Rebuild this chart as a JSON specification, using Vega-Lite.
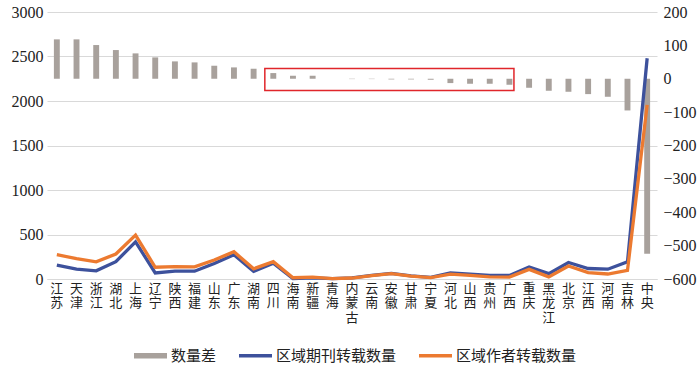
{
  "$schema": "https://vega.github.io/schema/vega-lite/v6.json",
  "width": 610,
  "height": 267,
  "autosize": {"type": "none"},
  "padding": {"left": 47, "top": 12, "right": 43, "bottom": 93},
  "config": {"view": {"stroke": null}, "font": "Liberation Serif"},
  "data": {
    "values": [
      {"region": "江苏", "diff": 118, "区域期刊转载数量": 155, "区域作者转载数量": 273},
      {"region": "天津", "diff": 118, "区域期刊转载数量": 110, "区域作者转载数量": 228},
      {"region": "浙江", "diff": 101, "区域期刊转载数量": 92, "区域作者转载数量": 193},
      {"region": "湖北", "diff": 86, "区域期刊转载数量": 195, "区域作者转载数量": 281},
      {"region": "上海", "diff": 76, "区域期刊转载数量": 418, "区域作者转载数量": 494},
      {"region": "辽宁", "diff": 64, "区域期刊转载数量": 68, "区域作者转载数量": 132},
      {"region": "陕西", "diff": 52, "区域期刊转载数量": 88, "区域作者转载数量": 140},
      {"region": "福建", "diff": 49, "区域期刊转载数量": 88, "区域作者转载数量": 137},
      {"region": "山东", "diff": 39, "区域期刊转载数量": 175, "区域作者转载数量": 214},
      {"region": "广东", "diff": 34, "区域期刊转载数量": 272, "区域作者转载数量": 306},
      {"region": "湖南", "diff": 30, "区域期刊转载数量": 85, "区域作者转载数量": 115},
      {"region": "四川", "diff": 17, "区域期刊转载数量": 178, "区域作者转载数量": 195},
      {"region": "海南", "diff": 9, "区域期刊转载数量": 5, "区域作者转载数量": 14},
      {"region": "新疆", "diff": 9, "区域期刊转载数量": 12, "区域作者转载数量": 21},
      {"region": "青海", "diff": 0, "区域期刊转载数量": 5, "区域作者转载数量": 5},
      {"region": "内蒙古", "diff": -1, "区域期刊转载数量": 12, "区域作者转载数量": 11},
      {"region": "云南", "diff": -1, "区域期刊转载数量": 40, "区域作者转载数量": 39},
      {"region": "安徽", "diff": -2, "区域期刊转载数量": 62, "区域作者转载数量": 60},
      {"region": "甘肃", "diff": -2, "区域期刊转载数量": 35, "区域作者转载数量": 33},
      {"region": "宁夏", "diff": -3, "区域期刊转载数量": 18, "区域作者转载数量": 15},
      {"region": "河北", "diff": -13, "区域期刊转载数量": 68, "区域作者转载数量": 55},
      {"region": "山西", "diff": -15, "区域期刊转载数量": 55, "区域作者转载数量": 40},
      {"region": "贵州", "diff": -15, "区域期刊转载数量": 40, "区域作者转载数量": 25},
      {"region": "广西", "diff": -18, "区域期刊转载数量": 40, "区域作者转载数量": 22},
      {"region": "重庆", "diff": -27, "区域期刊转载数量": 135, "区域作者转载数量": 108},
      {"region": "黑龙江", "diff": -36, "区域期刊转载数量": 60, "区域作者转载数量": 24},
      {"region": "北京", "diff": -39, "区域期刊转载数量": 185, "区域作者转载数量": 146},
      {"region": "江西", "diff": -46, "区域期刊转载数量": 118, "区域作者转载数量": 72},
      {"region": "河南", "diff": -54, "区域期刊转载数量": 110, "区域作者转载数量": 56},
      {"region": "吉林", "diff": -95, "区域期刊转载数量": 192, "区域作者转载数量": 97},
      {"region": "中央", "diff": -524, "区域期刊转载数量": 2480, "区域作者转载数量": 1956}
    ]
  },
  "layer": [
    {
      "mark": {"type": "bar", "width": {"band": 0.3}},
      "encoding": {
        "x": {
          "field": "region",
          "type": "nominal",
          "sort": null,
          "scale": {
            "domain": ["江苏","天津","浙江","湖北","上海","辽宁","陕西","福建","山东","广东","湖南","四川","海南","新疆","青海","内蒙古","云南","安徽","甘肃","宁夏","河北","山西","贵州","广西","重庆","黑龙江","北京","江西","河南","吉林","中央"],
            "paddingInner": 0,
            "paddingOuter": 0
          },
          "axis": {
            "title": null,
            "labelAngle": 0,
            "labelExpr": "split(datum.label, '')",
            "labelFont": "Noto Sans CJK SC",
            "labelFontSize": 13,
            "labelLineHeight": 14.5,
            "labelBaseline": "top",
            "labelColor": "#222222",
            "labelPadding": 3,
            "labelOverlap": false,
            "ticks": false,
            "grid": false,
            "domainColor": "#d9d9d9",
            "domainWidth": 1
          }
        },
        "y": {
          "field": "diff",
          "type": "quantitative",
          "scale": {"domain": [-600, 200], "nice": false, "zero": false},
          "axis": {
            "orient": "right",
            "title": null,
            "format": "d",
            "values": [-600, -500, -400, -300, -200, -100, 0, 100, 200],
            "grid": false,
            "domain": false,
            "ticks": false,
            "labelFont": "Liberation Serif",
            "labelFontSize": 16,
            "labelColor": "#222222",
            "labelPadding": 6
          }
        },
        "color": {
          "datum": "数量差",
          "type": "nominal",
          "scale": {
            "domain": ["数量差", "区域期刊转载数量", "区域作者转载数量"],
            "range": ["#a8a19c", "#3d519c", "#ec7a30"]
          },
          "legend": {
            "orient": "none",
            "legendX": 87,
            "legendY": 327,
            "direction": "horizontal",
            "title": null,
            "labelFont": "Noto Sans CJK SC",
            "labelFontSize": 15,
            "labelColor": "#222222",
            "symbolSize": 1089,
            "labelOffset": 4,
            "columnPadding": 22,
            "encode": {
              "symbols": {
                "update": {
                  "shape": {"signal": "datum.value === '数量差' ? 'M-1,-0.16H1V0.16H-1Z' : 'M-1,-0.1H1V0.1H-1Z'"},
                  "fill": {"signal": "scale('color', datum.value)"},
                  "stroke": {"value": "transparent"},
                  "strokeWidth": {"value": 0},
                  "opacity": {"value": 1}
                }
              }
            }
          }
        }
      }
    },
    {
      "transform": [{"fold": ["区域期刊转载数量", "区域作者转载数量"], "as": ["series", "count"]}],
      "mark": {"type": "line", "strokeWidth": 3.3},
      "encoding": {
        "x": {"field": "region", "type": "nominal", "sort": null},
        "y": {
          "field": "count",
          "type": "quantitative",
          "scale": {"domain": [0, 3000], "nice": false},
          "axis": {
            "orient": "left",
            "title": null,
            "format": "d",
            "values": [0, 500, 1000, 1500, 2000, 2500, 3000],
            "grid": true,
            "gridColor": "#d9d9d9",
            "domain": false,
            "ticks": false,
            "labelFont": "Liberation Serif",
            "labelFontSize": 16,
            "labelColor": "#222222",
            "labelPadding": 4
          }
        },
        "color": {
          "field": "series",
          "type": "nominal",
          "legend": {
            "orient": "none",
            "legendX": 87,
            "legendY": 327,
            "direction": "horizontal",
            "title": null,
            "labelFont": "Noto Sans CJK SC",
            "labelFontSize": 15,
            "labelColor": "#222222",
            "symbolSize": 1089,
            "labelOffset": 4,
            "columnPadding": 22,
            "encode": {
              "symbols": {
                "update": {
                  "shape": {"signal": "datum.value === '数量差' ? 'M-1,-0.16H1V0.16H-1Z' : 'M-1,-0.1H1V0.1H-1Z'"},
                  "fill": {"signal": "scale('color', datum.value)"},
                  "stroke": {"value": "transparent"},
                  "strokeWidth": {"value": 0},
                  "opacity": {"value": 1}
                }
              }
            }
          }
        }
      }
    },
    {
      "data": {"values": [{"start": "四川", "end": "广西", "top": 31, "bottom": -35}]},
      "mark": {"type": "rect", "fill": null, "stroke": "#e0262b", "strokeWidth": 1.5},
      "encoding": {
        "x": {"field": "start", "type": "nominal", "bandPosition": 0.07},
        "x2": {"field": "end", "bandPosition": 0.73},
        "y": {"field": "top", "type": "quantitative", "scale": {"domain": [-600, 200], "nice": false, "zero": false}, "axis": null},
        "y2": {"field": "bottom"}
      }
    }
  ],
  "resolve": {"scale": {"y": "independent"}}
}
